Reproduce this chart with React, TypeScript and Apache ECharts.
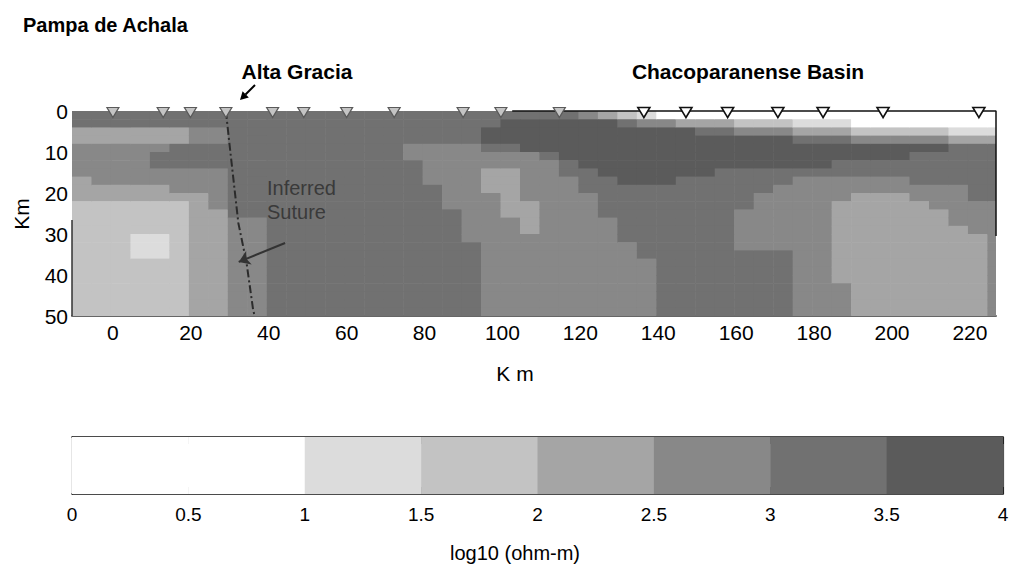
import React, { useEffect, useRef } from 'react';
import * as echarts from 'echarts';

// ---------- data ----------
const xTickLabels = [0, 20, 40, 60, 80, 100, 120, 140, 160, 180, 200, 220];
const colorbarTicks = [0, 0.5, 1, 1.5, 2, 2.5, 3, 3.5, 4];

// station positions (km along profile)
const stationsWestKm = [0, 12.9, 19.9, 29.0, 41.0, 49.0, 60.0, 72.2, 89.9, 99.6, 114.6];
const stationsEastKm = [136.3, 147.1, 157.8, 170.7, 182.3, 197.7, 222.3];

// inferred suture trace
const sutureKm = [29, 30, 32.2, 34.3, 36, 36.4];
const sutureDepth = [0, 8.7, 27.3, 37, 48.5, 50];
// arrow pointing to the suture
const sutureArrowFrom = [44.2, 32.2];
const sutureArrowTo = [32.3, 36.8];

// surface/frame line on the basin side
const surfaceKm = [102.5, 226.7, 226.7];
const surfaceDepth = [0, 0, 30.5];
const westFrameKm = [-10.5, -10.5];
const westFrameDepth = [26.6, 50];

// resistivity model: one string per 5 km column (from -10.5 km),
// each character a log10 resistivity bin per 2 km of depth (0..50 km)
// bins: 0 <1, 1 1-1.5, 2 1.5-2, 3 2-2.5, 4 2.5-3, 5 3-3.5, 6 3.5-4
const modelColumns = [
  '5533444433322222222222222',
  '5533444443322222222222222',
  '5533444443322222222222222',
  '5533444443322221112222222',
  '5533455443322221112222222',
  '5533555444322222222222222',
  '5544555444333333333333333',
  '5544555444443333333333333',
  '5555555555555444444444444',
  '5555555555555444444444444',
  '5555555555555555555555555',
  '5555555555555555555555555',
  '5555555555555555555555555',
  '5555555555555555555555555',
  '5555555555555555555555555',
  '5555555555555555555555555',
  '5555555555555555555555555',
  '5555445555555555555555555',
  '5555444445555555555555555',
  '5555444444445555555555555',
  '5555444444444444555555555',
  '5566544333444444444444444',
  '5666544333333444444444444',
  '5666644444433334444444444',
  '5666654444444444444444444',
  '5666665544444444444444444',
  '4666666555444444444444444',
  '3666666655555444444444444',
  '2566666665555555444444444',
  '1466666665555555554444444',
  '0466666665555555555555555',
  '0366666655555555555555555',
  '0356666655555555555555555',
  '0356666555555555555555555',
  '0246666555554444455555555',
  '0246666555444444455555555',
  '0246666554444444455555555',
  '0135666544444444444444444',
  '0135666544444444444444444',
  '0135665544433333333334444',
  '0024665544333333333333333',
  '0024665544333333333333333',
  '0024665544333333333333333',
  '0024655554433333333333333',
  '0024655554443333333333333',
  '0013555554444433333333333',
  '0013555555544443333333333',
  '0013555555544444444444444',
];
const binMid = [0.5, 1.25, 1.75, 2.25, 2.75, 3.25, 3.75];
const binColors = ['#ffffff', '#dcdcdc', '#c3c3c3', '#a5a5a5', '#888888', '#717171', '#5b5b5b'];

const COL_START = -10.5;
const CELL_W = 5;
const CELL_H = 2;
const FONT = '"Liberation Sans", Arial, sans-serif';

const heatData: number[][] = [];
modelColumns.forEach((col, i) => {
  for (let j = 0; j < col.length; j++) {
    heatData.push([COL_START + i * CELL_W, j * CELL_H, binMid[Number(col[j])]]);
  }
});

const colorbarData: number[][] = [];
for (let i = 0; i < colorbarTicks.length - 1; i++) {
  colorbarData.push([colorbarTicks[i], colorbarTicks[i + 1], (colorbarTicks[i] + colorbarTicks[i + 1]) / 2]);
}

function clipRect(a: number[], b: number[], cs: any, pad: number) {
  const left = Math.max(Math.min(a[0], b[0]), cs.x);
  const right = Math.min(Math.max(a[0], b[0]) + pad, cs.x + cs.width);
  const top = Math.max(Math.min(a[1], b[1]), cs.y);
  const bottom = Math.min(Math.max(a[1], b[1]) + pad, cs.y + cs.height);
  if (right <= left || bottom <= top) return null;
  return { x: left, y: top, width: right - left, height: bottom - top };
}

export default function App() {
  const ref = useRef<HTMLDivElement>(null);
  useEffect(() => {
    if (!ref.current) return;
    const chart = echarts.init(ref.current, undefined, { renderer: 'svg' });

    const pieces = binColors.map((c, i) => ({
      min: i === 0 ? 0 : 0.5 + 0.5 * i,
      max: i === 0 ? 1 : 1 + 0.5 * i,
      color: c,
    }));

    const txt = (text: string, x: number, y: number, size: number, opts: any = {}) => ({
      type: 'text',
      x,
      y,
      z: 100,
      rotation: opts.rotation || 0,
      style: {
        text,
        font: `${opts.bold ? 'bold ' : ''}${size}px ${FONT}`,
        fill: opts.color || '#000',
        align: opts.align || 'center',
        textAlign: opts.align || 'center',
        verticalAlign: 'middle',
        textVerticalAlign: 'middle',
      },
      silent: true,
    });

    const cbAxisLine = { show: true, onZero: false, lineStyle: { color: '#111', width: 1.5 } };

    chart.setOption({
      animation: false,
      backgroundColor: '#ffffff',
      grid: [
        { left: 72, top: 111, width: 924, height: 205, show: false },
        { left: 72, top: 437, width: 931, height: 57, show: false },
      ],
      xAxis: [
        {
          gridIndex: 0,
          type: 'value',
          min: -10.5,
          max: 226.7,
          axisLine: { show: true, onZero: false, lineStyle: { color: '#666', width: 2 } },
          axisTick: { show: false },
          splitLine: { show: false },
          axisLabel: {
            customValues: xTickLabels,
            fontSize: 21,
            fontFamily: FONT,
            color: '#000',
            margin: 6,
          },
        },
        {
          gridIndex: 1,
          type: 'value',
          min: 0,
          max: 4,
          interval: 0.5,
          position: 'bottom',
          axisLine: cbAxisLine,
          axisTick: { show: true, inside: true, length: 7, lineStyle: { color: '#222' } },
          splitLine: { show: false },
          axisLabel: { fontSize: 19, fontFamily: FONT, color: '#000', margin: 11 },
        },
        {
          gridIndex: 1,
          type: 'value',
          min: 0,
          max: 4,
          interval: 0.5,
          position: 'top',
          axisLine: cbAxisLine,
          axisTick: { show: true, inside: true, length: 7, lineStyle: { color: '#222' } },
          splitLine: { show: false },
          axisLabel: { show: false },
        },
      ],
      yAxis: [
        {
          gridIndex: 0,
          type: 'value',
          min: 0,
          max: 50,
          interval: 10,
          inverse: true,
          axisLine: { show: false, onZero: false },
          axisTick: { show: false },
          splitLine: { show: false },
          axisLabel: { fontSize: 21, fontFamily: FONT, color: '#000', margin: 4 },
        },
        {
          gridIndex: 1,
          type: 'value',
          min: 0,
          max: 1,
          position: 'left',
          axisLine: { show: true, onZero: false, lineStyle: { color: '#111', width: 1.2 } },
          axisTick: { show: false },
          axisLabel: { show: false },
          splitLine: { show: false },
        },
        {
          gridIndex: 1,
          type: 'value',
          min: 0,
          max: 1,
          position: 'right',
          axisLine: { show: true, onZero: false, lineStyle: { color: '#555', width: 1.2 } },
          axisTick: { show: false },
          axisLabel: { show: false },
          splitLine: { show: false },
        },
      ],
      visualMap: {
        type: 'piecewise',
        show: false,
        dimension: 2,
        seriesIndex: [0, 6],
        pieces,
      },
      series: [
        {
          type: 'custom',
          xAxisIndex: 0,
          yAxisIndex: 0,
          data: heatData,
          encode: { x: 0, y: 1 },
          silent: true,
          renderItem: (params: any, api: any) => {
            const x0 = api.value(0);
            const y0 = api.value(1);
            const a = api.coord([x0, y0]);
            const b = api.coord([x0 + CELL_W, y0 + CELL_H]);
            const shape = clipRect(a, b, params.coordSys, 0.6);
            if (!shape) return null;
            return { type: 'rect', shape, style: { fill: api.visual('color') } };
          },
          z: 1,
        },
        {
          type: 'scatter',
          xAxisIndex: 0,
          yAxisIndex: 0,
          data: stationsWestKm.map((k) => [k, 0]),
          symbol: 'triangle',
          symbolRotate: 180,
          symbolSize: [12, 10],
          symbolOffset: [0, 1.5],
          clip: false,
          silent: true,
          itemStyle: { color: '#c4c4c4', borderColor: '#5a5a5a', borderWidth: 1.2, opacity: 1 },
          z: 5,
        },
        {
          type: 'scatter',
          xAxisIndex: 0,
          yAxisIndex: 0,
          data: stationsEastKm.map((k) => [k, 0]),
          symbol: 'triangle',
          symbolRotate: 180,
          symbolSize: [12, 10],
          symbolOffset: [0, 1.5],
          clip: false,
          silent: true,
          itemStyle: { color: '#ffffff', borderColor: '#111', borderWidth: 1.6, opacity: 1 },
          z: 5,
        },
        {
          type: 'line',
          xAxisIndex: 0,
          yAxisIndex: 0,
          data: sutureKm.map((k, i) => [k, sutureDepth[i]]),
          showSymbol: false,
          symbol: 'none',
          silent: true,
          clip: false,
          lineStyle: { color: '#2b2b2b', width: 2, type: [8, 3, 2, 3] },
          markLine: {
            silent: true,
            symbol: ['none', 'arrow'],
            symbolSize: 11,
            label: { show: false },
            lineStyle: { color: '#333', width: 2, type: 'solid' },
            data: [[{ coord: sutureArrowFrom }, { coord: sutureArrowTo }]],
          },
          z: 4,
        },
        {
          type: 'line',
          xAxisIndex: 0,
          yAxisIndex: 0,
          data: surfaceKm.map((k, i) => [k, surfaceDepth[i]]),
          showSymbol: false,
          symbol: 'none',
          silent: true,
          clip: false,
          lineStyle: { color: '#111', width: 1.5 },
          z: 4,
        },
        {
          type: 'line',
          xAxisIndex: 0,
          yAxisIndex: 0,
          data: westFrameKm.map((k, i) => [k, westFrameDepth[i]]),
          showSymbol: false,
          symbol: 'none',
          silent: true,
          clip: false,
          lineStyle: { color: '#333', width: 1.5 },
          z: 4,
        },
        {
          type: 'custom',
          xAxisIndex: 1,
          yAxisIndex: 1,
          data: colorbarData,
          encode: { x: [0, 1] },
          silent: true,
          renderItem: (params: any, api: any) => {
            const a = api.coord([api.value(0), 0]);
            const b = api.coord([api.value(1), 1]);
            const shape = clipRect(a, b, params.coordSys, 0.5);
            if (!shape) return null;
            return { type: 'rect', shape, style: { fill: api.visual('color') } };
          },
          z: 1,
        },
      ],
      graphic: [
        txt('Pampa de Achala', 23, 25, 20, { bold: true, align: 'left' }),
        txt('Alta Gracia', 297, 71.5, 21, { bold: true }),
        txt('Chacoparanense Basin', 748, 71.5, 21, { bold: true }),
        txt('Inferred', 267, 188, 20, { align: 'left', color: '#3a3a3a' }),
        txt('Suture', 267, 212, 20, { align: 'left', color: '#3a3a3a' }),
        txt('Km', 21.5, 214, 21, { rotation: Math.PI / 2 }),
        txt('K m', 515, 373, 21),
        txt('log10 (ohm-m)', 515, 553, 20),
        {
          type: 'line',
          z: 100,
          shape: { x1: 255, y1: 85, x2: 245.5, y2: 94.5 },
          style: { stroke: '#000', lineWidth: 2 },
          silent: true,
        },
        {
          type: 'polygon',
          z: 100,
          shape: { points: [[240, 100], [248.8, 97.4], [242.6, 91.2]] },
          style: { fill: '#000' },
          silent: true,
        },
      ],
    });
    return () => chart.dispose();
  }, []);

  return (
    <div
      ref={ref}
      style={{ position: 'absolute', left: 0, top: 0, width: 1018, height: 567, background: '#fff' }}
    />
  );
}
